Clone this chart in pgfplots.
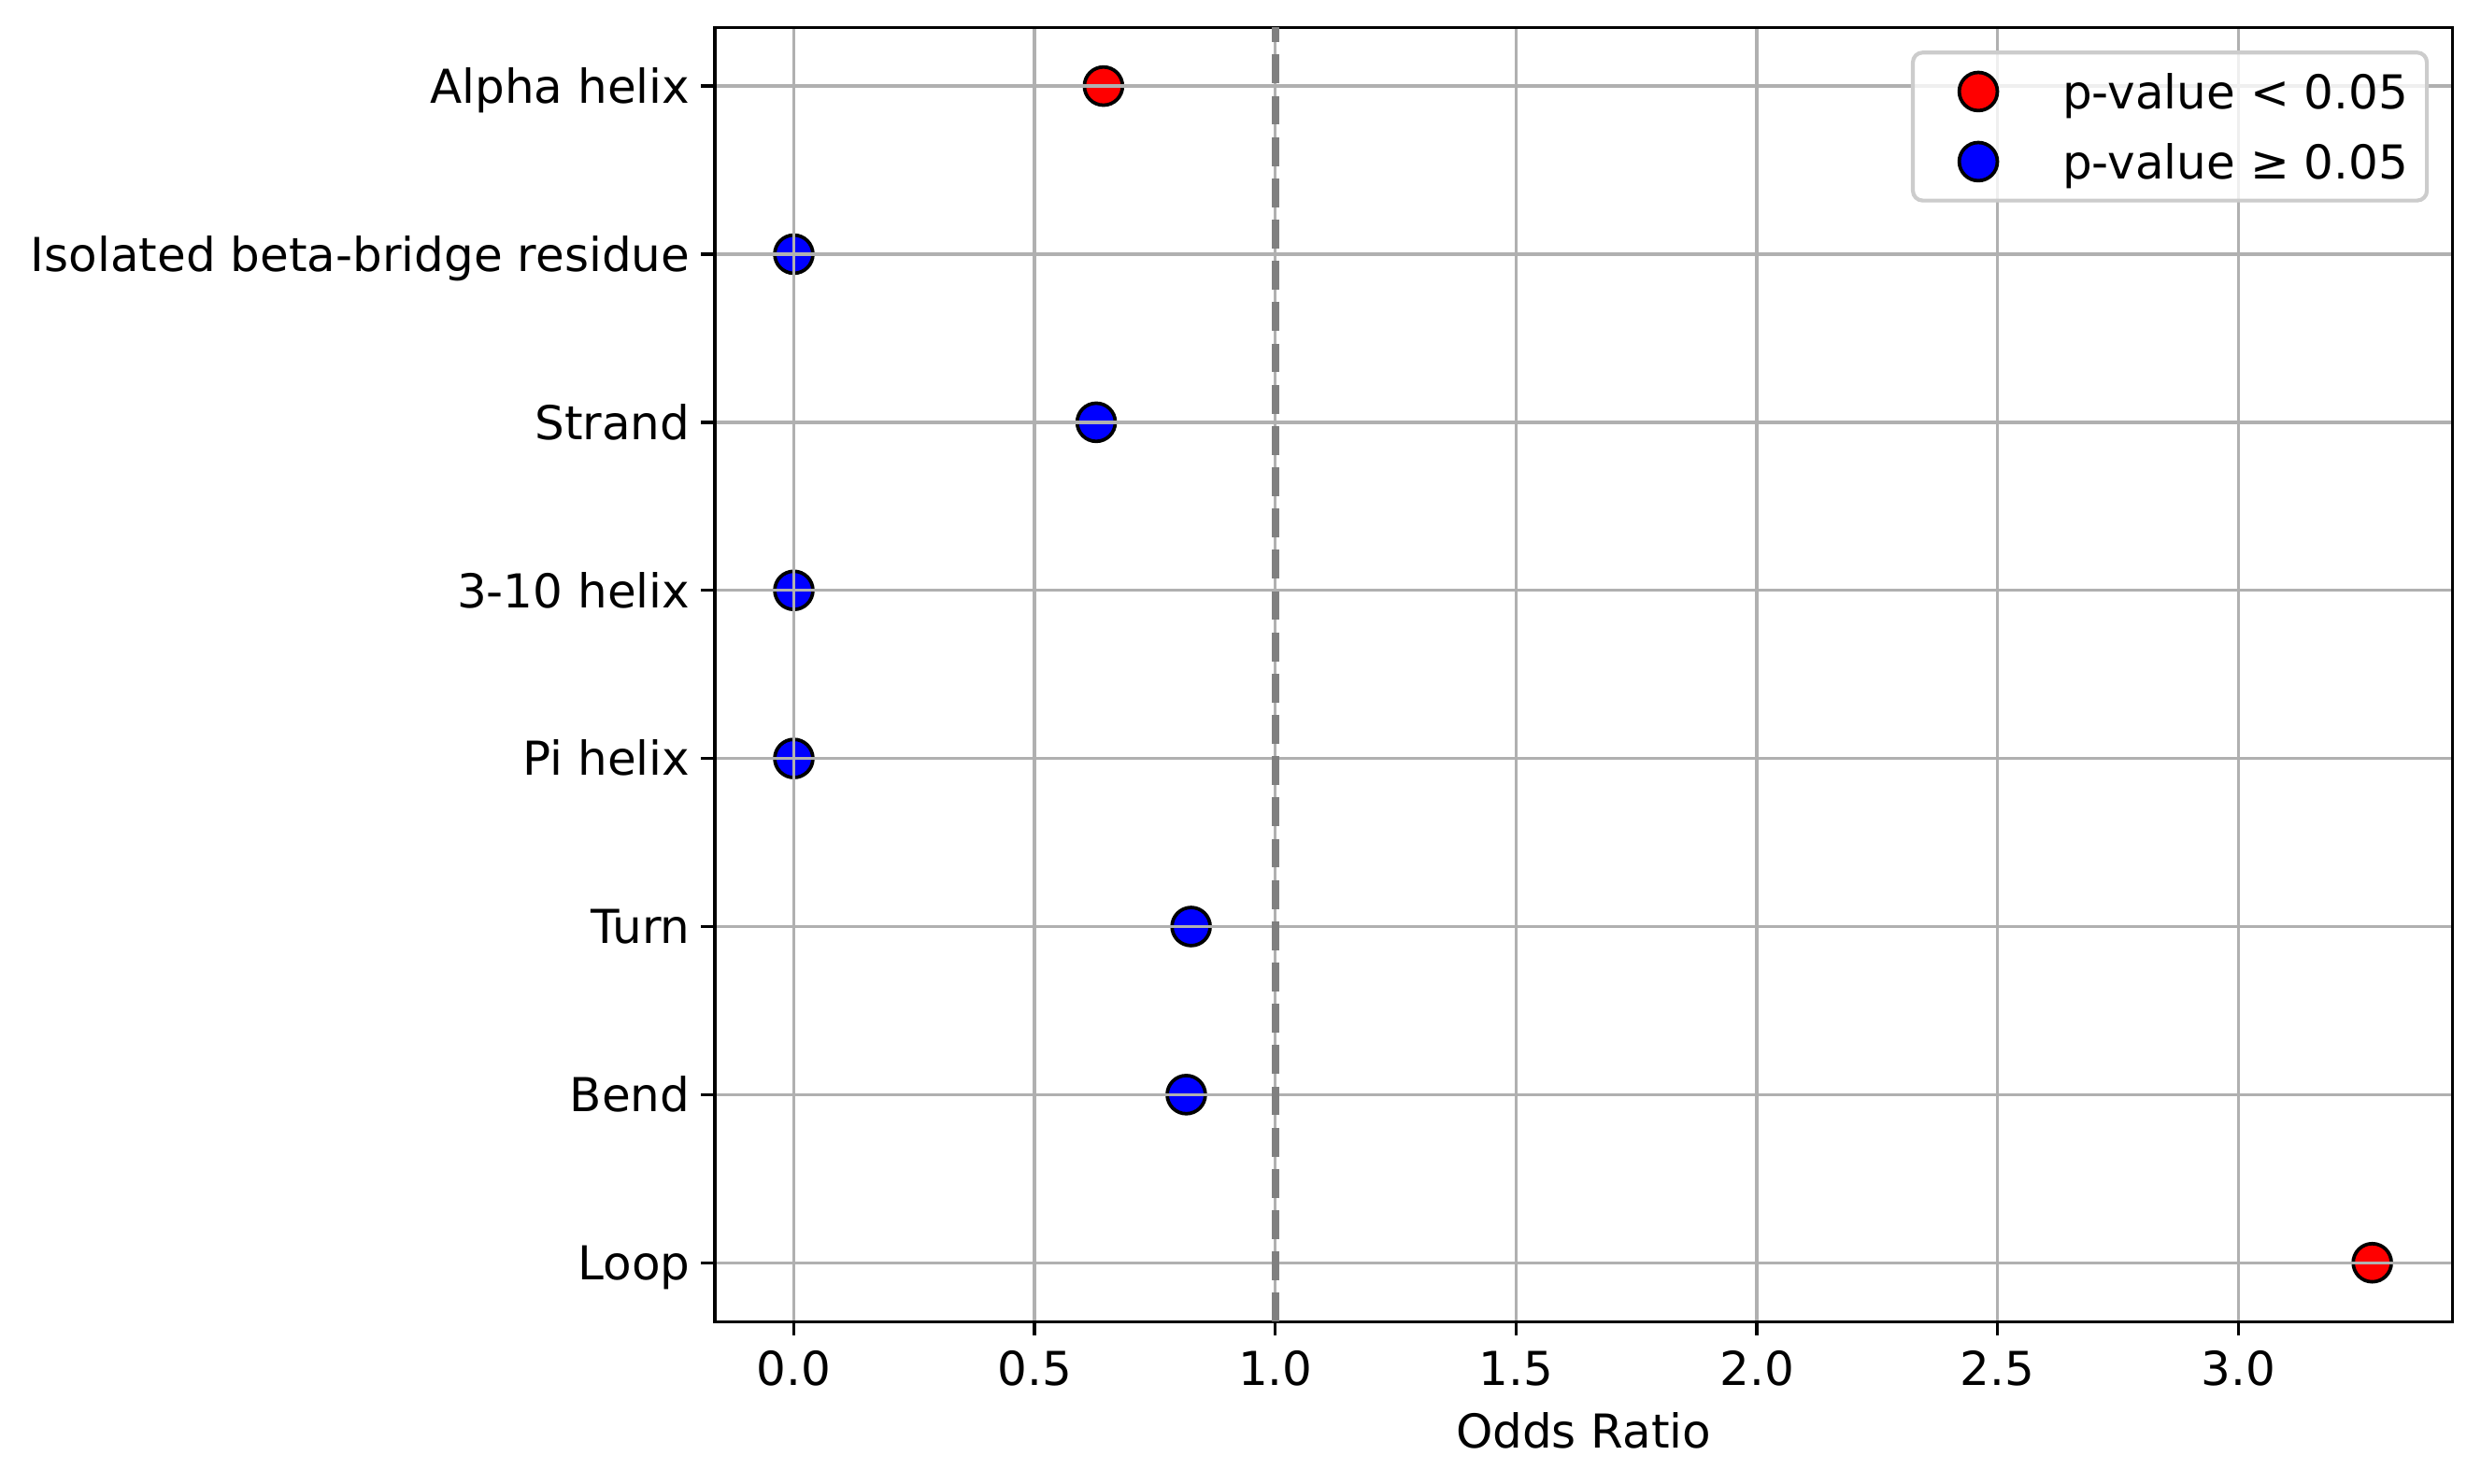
\documentclass[border=0pt,12pt]{standalone}
\usepackage{fontspec}
\setmainfont{DejaVu Sans}
\usepackage{pgfplots}
\pgfplotsset{compat=1.18}
\definecolor{gridgray}{HTML}{B0B0B0}
\definecolor{dashgray}{HTML}{808080}
\definecolor{legedge}{HTML}{CCCCCC}
\begin{document}
\begin{tikzpicture}
\begin{axis}[
  set layers,
  axis on top,
  scale only axis,
  width=446.2pt, height=332.4pt,
  xmin=-0.164, xmax=3.444,
  ymin=-0.35, ymax=7.35,
  y dir=reverse,
  xtick={0,0.5,1,1.5,2,2.5,3},
  xticklabels={0.0,0.5,1.0,1.5,2.0,2.5,3.0},
  ytick={0,1,2,3,4,5,6,7},
  yticklabels={Alpha helix,Isolated beta-bridge residue,Strand,3-10 helix,Pi helix,Turn,Bend,Loop},
  tick pos=left, tick align=outside, major tick length=3.5pt,
  every tick/.style={black, line width=0.8pt},
  grid=major, major grid style={gridgray, line width=0.8pt},
  axis line style={black, line width=0.8pt},
  xticklabel style={anchor=north, inner sep=0pt, text height=8.8pt, text depth=0pt, yshift=-4.0pt},
  yticklabel style={anchor=east, inner sep=0pt, text height=8.8pt, text depth=0pt, xshift=-2.7pt},
  xlabel={Odds Ratio},
  xlabel style={at={(axis description cs:0.5,0)}, anchor=base, inner sep=0pt, yshift=-32.4pt},
  legend style={at={(axis description cs:1,1)}, anchor=north east, xshift=-6pt, yshift=-6pt,
    draw=legedge, line width=1pt, rounded corners=2.5pt, fill=white, fill opacity=0.8, draw opacity=1, text opacity=1,
    inner xsep=4.8pt, inner ysep=1pt, row sep=0pt, column sep=0pt,
    nodes={inner sep=0pt, text height=8.8pt, text depth=0pt, anchor=west}},
  legend cell align=left,
  legend image code/.code={\path[draw=none, fill=none] (0pt,-9pt) rectangle (33.6pt,9pt); \draw[#1, fill opacity=1] plot coordinates {(12pt,0pt)};},
]
\addplot[only marks, mark=*, mark size=4.9pt, draw=black, fill=red, line width=0.9pt] coordinates {(0.643,0) (3.278,7)};
\addlegendentry{p-value < 0.05}
\addplot[only marks, mark=*, mark size=4.9pt, draw=black, fill=blue, line width=0.9pt] coordinates {(0,1) (0.628,2) (0,3) (0,4) (0.825,5) (0.815,6)};
\addlegendentry{p-value ≥ 0.05}
\addplot[dashgray, line width=2pt, dash pattern=on 7.4pt off 3.2pt, forget plot, on layer=axis foreground] coordinates {(1,7.35) (1,-0.35)};
\end{axis}
\pgfresetboundingbox
\path[use as bounding box] ([shift={(-183.6pt,-41.5pt)}]current axis.south west) rectangle ([shift={(7.4pt,7.0pt)}]current axis.north east);
\end{tikzpicture}
\end{document}
